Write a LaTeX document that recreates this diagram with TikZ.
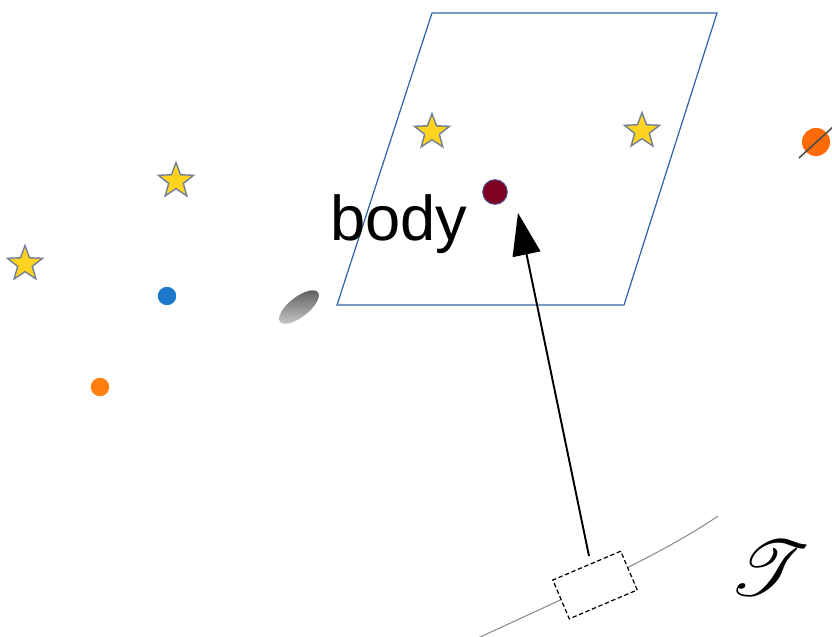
\documentclass[tikz,border=0pt]{standalone}
\usepackage{fontspec}
\usepackage{mathrsfs}
\usepackage{graphicx}
\newfontfamily\bodyfont{Liberation Sans}
\usetikzlibrary{shapes.geometric,arrows.meta}
\definecolor{staryellow}{HTML}{FFD320}
\definecolor{staredge}{HTML}{728096}
\definecolor{planeblue}{HTML}{3465A4}
\definecolor{dotred}{HTML}{7F0021}
\definecolor{dotedge}{HTML}{50508C}
\definecolor{dotblue}{HTML}{1C78C8}
\definecolor{dotorange}{HTML}{FF8011}
\definecolor{dotorange2}{HTML}{FF6A08}
\tikzset{
  starmark/.style={star, star points=5, star point ratio=2.4, minimum size=21pt, inner sep=0pt, fill=staryellow, draw=staredge, line width=0.8pt},
  smalldot/.style={circle, inner sep=0pt, minimum size=10.5pt},
}
\begin{document}
\begin{tikzpicture}[x=0.02cm,y=-0.02cm]
\useasboundingbox (0,0) rectangle (832,636);
% plane
\draw[planeblue, line width=0.7pt] (432,13) -- (717,13) -- (624,305) -- (337,305) -- cycle;
% stars
\node[starmark] (s1) at (432,132) {};
\node[starmark] (s2) at (642,131) {};
\node[starmark] (s3) at (176,181) {};
\node[starmark] (s4) at (25,264) {};
% dots
\node[smalldot, fill=dotblue] (b1) at (167,296) {};
\node[smalldot, fill=dotorange] (o1) at (100,387) {};
\node[circle, inner sep=0pt, minimum size=14pt, fill=dotred, draw=dotedge, line width=0.6pt] (body) at (495,192) {};
% right orange circle with line
\node[circle, inner sep=0pt, minimum size=16pt, fill=dotorange2] (o2) at (816,142) {};
\coordinate (l1) at (799,158);
\coordinate (l2) at (834,126);
\draw[black!70, line width=0.9pt] (l1) -- (l2);
% gray ellipse
\shade[rotate around={38:(299,307)}, left color=black!65, right color=black!20, shading angle=0] (299,307) ellipse [x radius=24, y radius=10];
% label
\node[anchor=base, font=\bodyfont\fontsize{36pt}{40pt}\selectfont, inner sep=0pt] (lbl) at (399,240) {body};
% curve
\coordinate (c0) at (478,638);
\coordinate (c1) at (718,516);
\draw[black!45, line width=0.6pt] (c0) .. controls (560,600) and (660,556) .. (c1);
% dashed rectangle
\node[draw, dash pattern=on 2.5pt off 1.5pt, line width=0.7pt, fill=white, minimum width=42pt, minimum height=24pt, inner sep=0pt, rotate=23] (rect) at (595,585) {};
% arrow
\coordinate (a0) at (589,556);
\coordinate (a1) at (518,213);
\draw[line width=1.1pt, -{Triangle[length=24pt, width=16pt]}] (a0) -- (a1);
% tau
\node[inner sep=0pt] (tau) at (770,568) {\resizebox{46pt}{!}{$\mathscr{T}$}};
\end{tikzpicture}
\end{document}
